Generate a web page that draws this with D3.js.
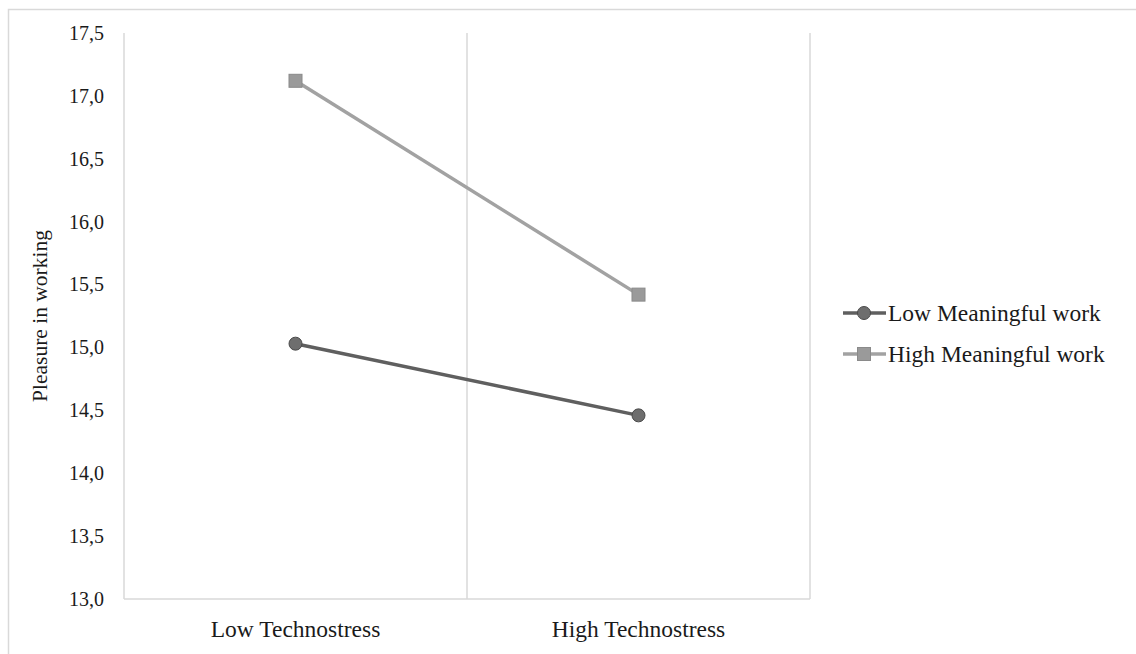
<!DOCTYPE html>
<html>
<head>
<meta charset="utf-8">
<script src="https://cdn.jsdelivr.net/npm/d3@7"></script>
<style>
  body { margin: 0; background: #fff; }
  svg { display: block; font-family: "Liberation Serif", "DejaVu Serif", serif; }
</style>
</head>
<body>
<div class="chart"></div>
<script>
// categories and series
var categories = ['Low Technostress', 'High Technostress'];
var lowMeaningful = [15.03, 14.46];
var highMeaningful = [17.12, 15.42];
var yTicks = [13.0, 13.5, 14.0, 14.5, 15.0, 15.5, 16.0, 16.5, 17.0, 17.5];
var seriesNames = ['Low Meaningful work', 'High Meaningful work'];

var width = 1136;
var height = 654;
var margin = {top: 33, left: 124, right: 326, bottom: 55};

var svg = d3.select('.chart').append('svg')
  .attr('width', width)
  .attr('height', height);

// outer frame
svg.append('rect')
  .attr('x', 8.5).attr('y', 9.5)
  .attr('width', width + 10).attr('height', height + 10)
  .attr('fill', 'none').attr('stroke', '#d9d9d9').attr('stroke-width', 1.5);

var x = d3.scaleBand()
  .domain(categories)
  .range([margin.left, width - margin.right]);

var y = d3.scaleLinear()
  .domain([13, 17.5])
  .range([height - margin.bottom, margin.top]);

var fmt = v => d3.format('.1f')(v).replace('.', ',');

// vertical gridlines at category borders
var edges = [x.range()[0]].concat(categories.map(c => x(c) + x.bandwidth()));
svg.selectAll('line.grid')
  .data(edges)
  .enter().append('line')
  .attr('class', 'grid')
  .attr('x1', d => d).attr('x2', d => d)
  .attr('y1', y(17.5)).attr('y2', y(13))
  .attr('stroke', '#d9d9d9').attr('stroke-width', 1.5);

// bottom axis line
svg.append('line')
  .attr('x1', x.range()[0]).attr('x2', x.range()[1])
  .attr('y1', y(13)).attr('y2', y(13))
  .attr('stroke', '#d9d9d9').attr('stroke-width', 1.5);

// y axis
var yAxis = svg.append('g')
  .attr('transform', `translate(${margin.left - 20},0)`)
  .call(d3.axisLeft(y).tickValues(yTicks).tickFormat(fmt).tickSize(0).tickPadding(0));
yAxis.select('.domain').remove();
yAxis.selectAll('text')
  .style('font-size', '20px')
  .style('font-family', '"Liberation Serif", serif')
  .attr('fill', '#1a1a1a');

// x axis
var xAxis = svg.append('g')
  .attr('transform', `translate(0,${y(13) + 21})`)
  .call(d3.axisBottom(x).tickSize(0).tickPadding(0));
xAxis.select('.domain').remove();
xAxis.selectAll('text')
  .attr('dy', '0.71em')
  .style('font-size', '23.5px')
  .style('font-family', '"Liberation Serif", serif')
  .attr('fill', '#1a1a1a');

// y label
svg.append('text')
  .attr('transform', `translate(47,${(y(13) + y(17.5)) / 2}) rotate(-90)`)
  .attr('text-anchor', 'middle')
  .style('font-size', '21.5px')
  .attr('fill', '#1a1a1a')
  .text('Pleasure in working');

var series = [
  {name: seriesNames[0], values: lowMeaningful, line: '#5f5f5f', fill: '#6e6e6e', stroke: '#4a4a4a', shape: 'circle'},
  {name: seriesNames[1], values: highMeaningful, line: '#a2a2a2', fill: '#9a9a9a', stroke: '#8a8a8a', shape: 'square'}
];

var line = d3.line()
  .x((d, i) => x(categories[i]) + x.bandwidth() / 2)
  .y(d => y(d));

series.forEach(s => {
  svg.append('path')
    .datum(s.values)
    .attr('fill', 'none')
    .attr('stroke', s.line)
    .attr('stroke-width', 3.5)
    .attr('d', line);

  var pts = svg.selectAll(null)
    .data(s.values)
    .enter();
  if (s.shape === 'circle') {
    pts.append('circle')
      .attr('cx', (d, i) => x(categories[i]) + x.bandwidth() / 2)
      .attr('cy', d => y(d))
      .attr('r', 6.5)
      .attr('fill', s.fill).attr('stroke', s.stroke).attr('stroke-width', 1);
  } else {
    pts.append('rect')
      .attr('x', (d, i) => x(categories[i]) + x.bandwidth() / 2 - 6.5)
      .attr('y', d => y(d) - 6.5)
      .attr('width', 13).attr('height', 13)
      .attr('fill', s.fill).attr('stroke', s.stroke).attr('stroke-width', 1);
  }
});

// legend
var legend = svg.append('g').attr('transform', 'translate(843,313)');
var items = legend.selectAll('g')
  .data(series)
  .enter().append('g')
  .attr('transform', (d, i) => `translate(0,${i * 41})`);

items.append('line')
  .attr('x1', 0).attr('x2', 43).attr('y1', 0).attr('y2', 0)
  .attr('stroke', d => d.line).attr('stroke-width', 3.5);
items.filter(d => d.shape === 'circle').append('circle')
  .attr('cx', 21).attr('cy', 0).attr('r', 6.5)
  .attr('fill', d => d.fill).attr('stroke', d => d.stroke);
items.filter(d => d.shape === 'square').append('rect')
  .attr('x', 14.5).attr('y', -6.5).attr('width', 13).attr('height', 13)
  .attr('fill', d => d.fill).attr('stroke', d => d.stroke);
items.append('text')
  .attr('x', 45).attr('dy', '0.35em')
  .style('font-size', '23.5px')
  .attr('fill', '#1a1a1a')
  .text(d => d.name);
</script>
</body>
</html>
